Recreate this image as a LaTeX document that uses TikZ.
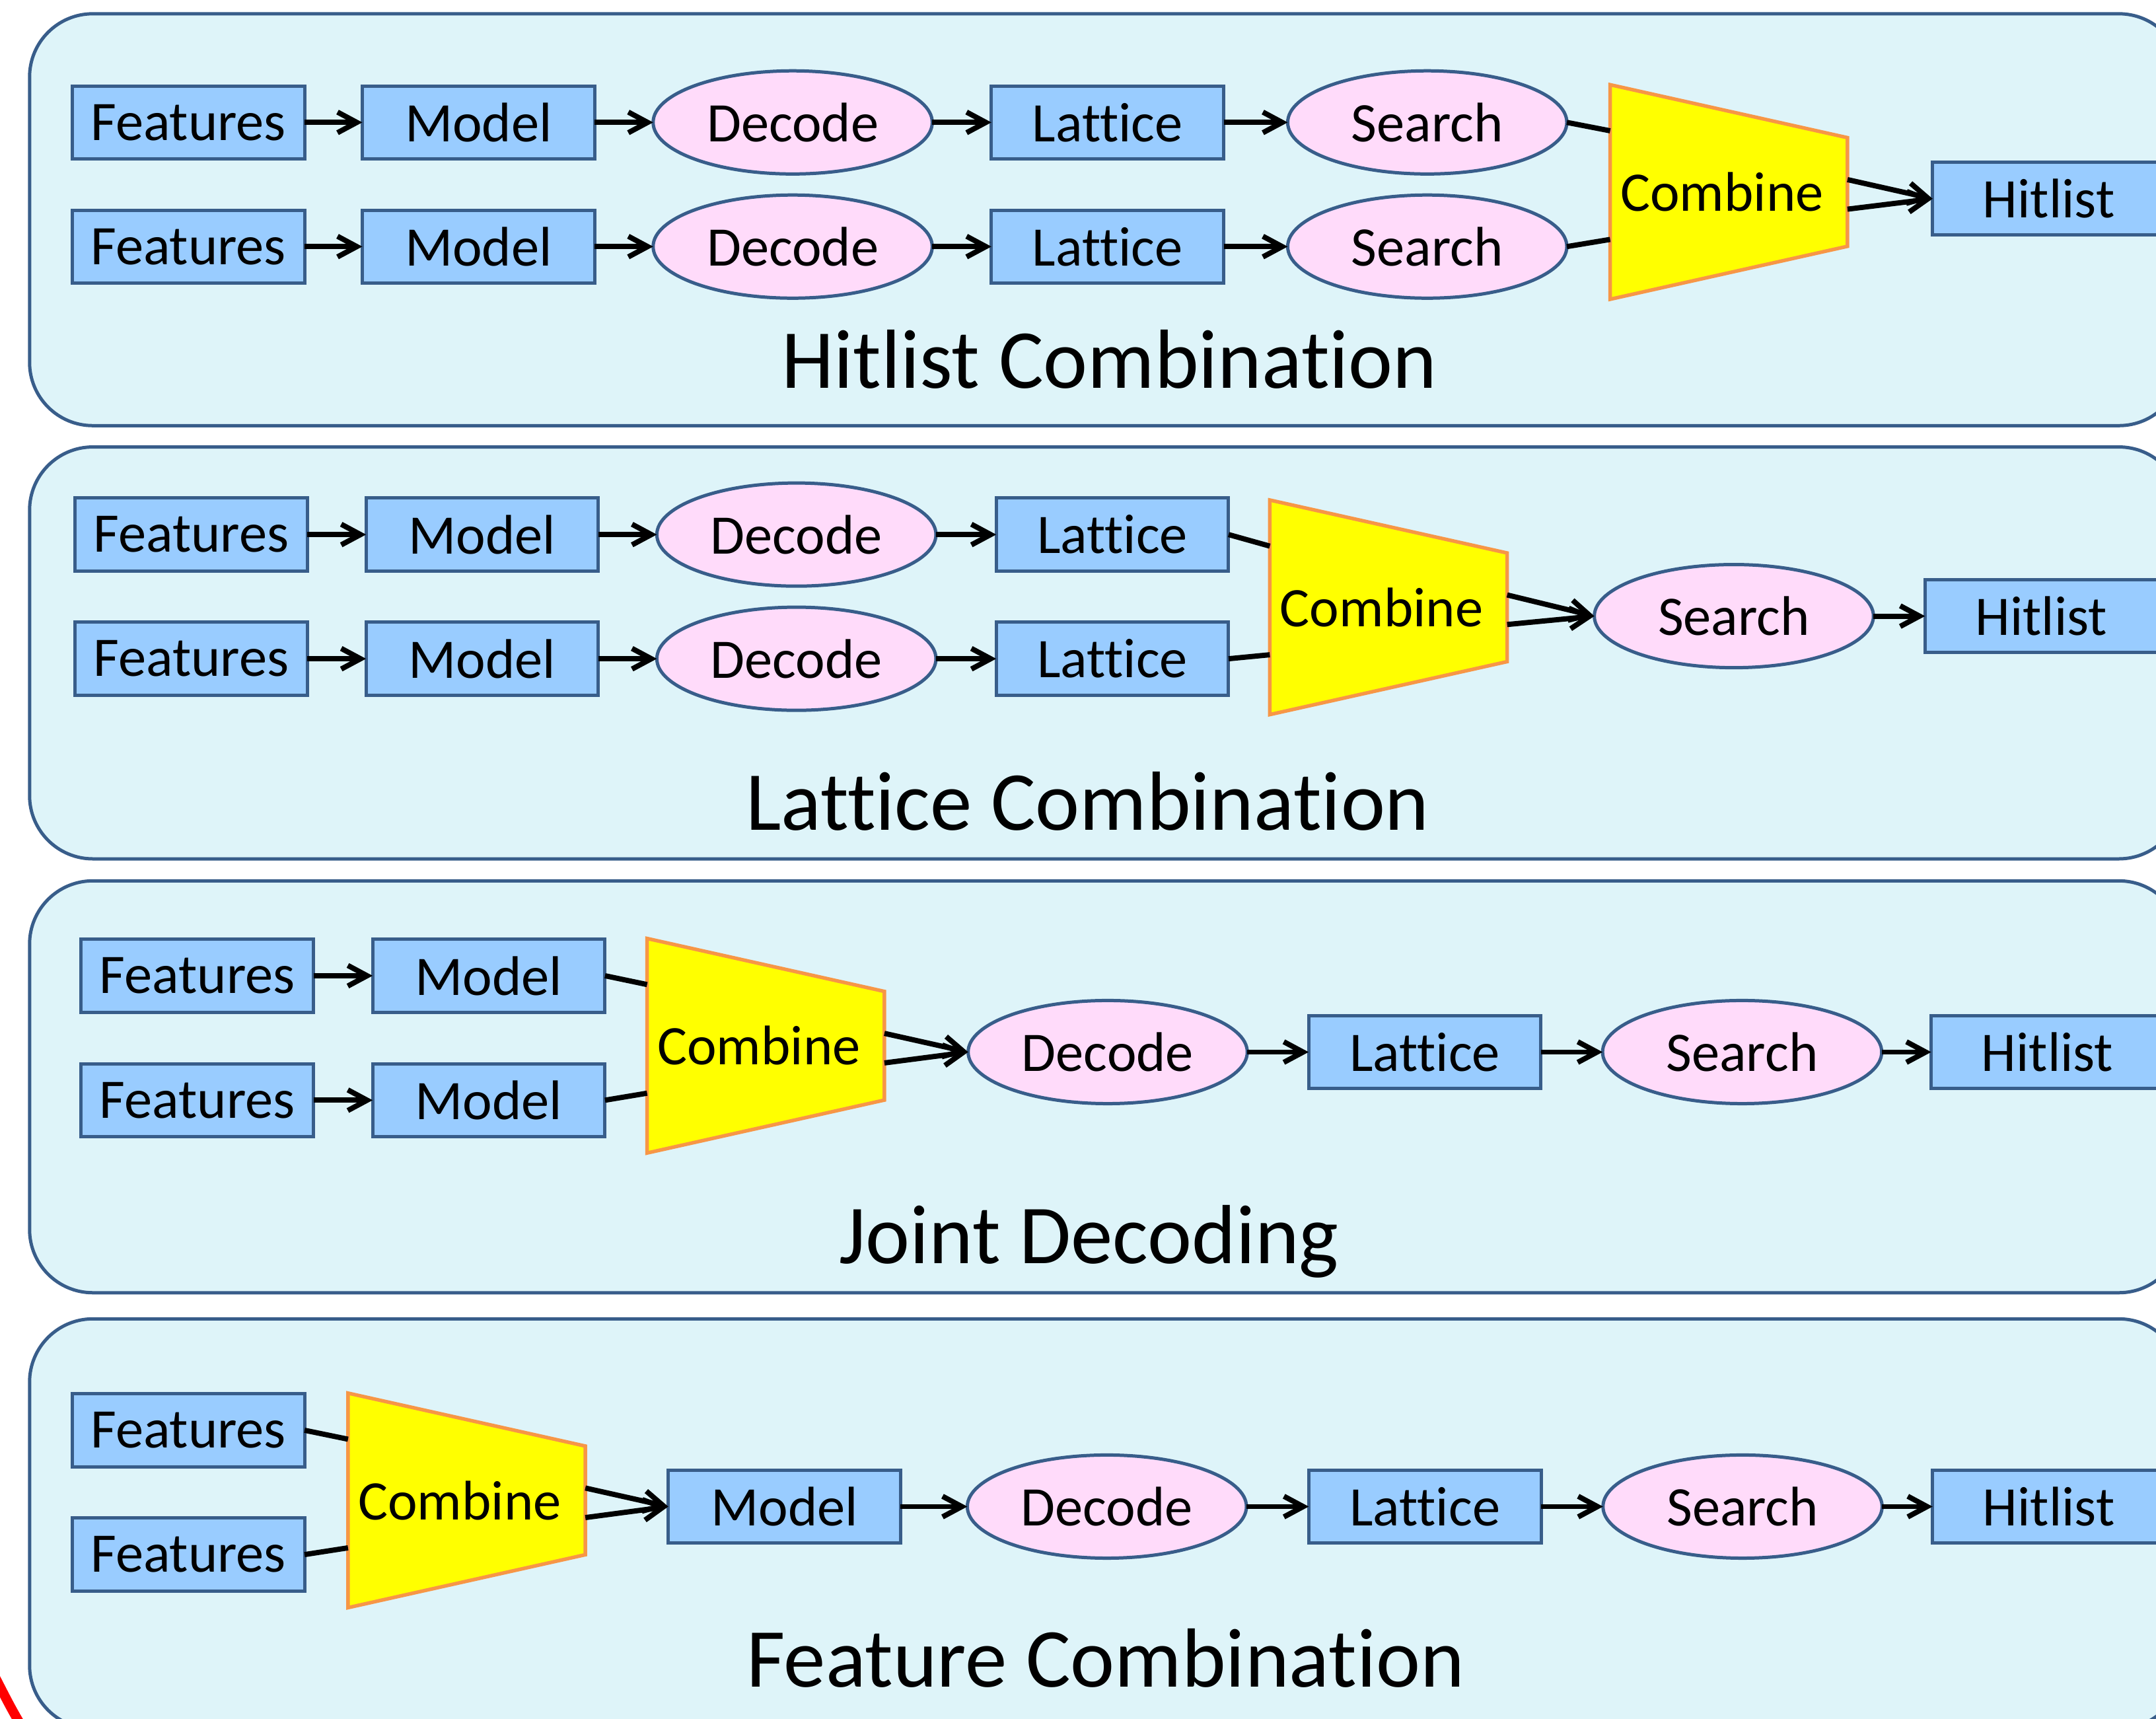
\documentclass[tikz,border=0pt]{standalone}
\usepackage{fontspec}
\setmainfont{Carlito}[Ligatures=NoCommon]
\usetikzlibrary{arrows.meta,shapes.geometric,calc}

\definecolor{panelfill}{RGB}{222,244,249}
\definecolor{paneledge}{RGB}{56,93,138}
\definecolor{boxfill}{RGB}{153,204,255}
\definecolor{ovalfill}{RGB}{255,219,250}
\definecolor{mergeedge}{RGB}{247,150,70}
\definecolor{mergefill}{RGB}{255,255,0}

\begin{document}
\begin{tikzpicture}[x=0.5pt,y=0.5pt,yscale=-1,xscale=1,
  panel/.style={draw=paneledge,fill=panelfill,line width=1.2pt,rounded corners=23pt},
  block/.style={draw=paneledge,fill=boxfill,line width=1.2pt,minimum width=84.5pt,minimum height=26.5pt,inner sep=0pt,outer sep=0pt,font=\fontsize{20.3}{24}\selectfont},
  oval/.style={ellipse,draw=paneledge,fill=ovalfill,line width=1.2pt,minimum width=101.5pt,minimum height=37.5pt,inner sep=0pt,outer sep=0pt,font=\fontsize{20.3}{24}\selectfont},
  mergeshape/.style={draw=mergeedge,fill=mergefill,line width=1.3pt},
  merge/.style={minimum width=86.3pt,minimum height=78pt,inner sep=0pt,outer sep=0pt,font=\fontsize{20.3}{24}\selectfont},
  heading/.style={anchor=base,inner sep=0pt,font=\fontsize{30.5}{36}\selectfont},
  link/.style={line width=1.9pt,-{Straight Barb[length=7pt,width=7.5pt]}},
  feed/.style={line width=1.9pt}]
\useasboundingbox (0,0) rectangle (1568,1249.5);
\clip (0,0) rectangle (1568,1249.5);

% panels
\draw[panel] (21.5,10) rectangle (1587,309.5);
\draw[panel] (21.5,325) rectangle (1587,624.5);
\draw[panel] (21.5,640.5) rectangle (1587,940);
\draw[panel] (21.5,959) rectangle (1587,1257);

% trapezoids under the Combine nodes
\foreach \cx/\cy in {1257.3/139.6, 1009.8/441.6, 556.9/760.4, 339.4/1091}
  \draw[mergeshape] (\cx-86.3,\cy-78) -- (\cx+86.3,\cy-39.5) -- (\cx+86.3,\cy+39.5) -- (\cx-86.3,\cy+78) -- cycle;

% Hitlist Combination
\foreach \r/\y in {a/89, b/179.3} {
  \node[block] (f1\r) at (137,\y) {Features};
  \node[block] (m1\r) at (348,\y) {Model};
  \node[oval] (d1\r) at (576.5,\y) {Decode};
  \node[block] (l1\r) at (805.5,\y) {Lattice};
  \node[oval] (s1\r) at (1038,\y) {Search};
  \draw[link] (f1\r) -- (m1\r);
  \draw[link] (m1\r) -- (d1\r);
  \draw[link] (d1\r) -- (l1\r);
  \draw[link] (l1\r) -- (s1\r);
}
\node[merge] (c1) at (1257.3,139.6) {Combine\kern5pt};
\node[block] (h1) at (1490,144.5) {Hitlist};
\draw[feed] (s1a.east) -- ($(c1.west)+(0,-44.5)$);
\draw[feed] (s1b.east) -- ($(c1.west)+(0,34.5)$);
\draw[link] ($(c1.east)+(0,-9)$) -- (h1.west);
\draw[link] ($(c1.east)+(0,12.5)$) -- (h1.west);
\node[heading] (t1) at (807,282) {Hitlist Combination};

% Lattice Combination
\foreach \r/\y in {a/388.7, b/479} {
  \node[block] (f2\r) at (139,\y) {Features};
  \node[block] (m2\r) at (350.7,\y) {Model};
  \node[oval] (d2\r) at (579.2,\y) {Decode};
  \node[block] (l2\r) at (809,\y) {Lattice};
  \draw[link] (f2\r) -- (m2\r);
  \draw[link] (m2\r) -- (d2\r);
  \draw[link] (d2\r) -- (l2\r);
}
\node[merge] (c2) at (1009.8,441.6) {Combine\kern5pt};
\node[oval] (s2) at (1261,448) {Search};
\node[block] (h2) at (1484.5,448) {Hitlist};
\draw[feed] (l2a.east) -- ($(c2.west)+(0,-44.5)$);
\draw[feed] (l2b.east) -- ($(c2.west)+(0,34.5)$);
\draw[link] ($(c2.east)+(0,-9)$) -- (s2.west);
\draw[link] ($(c2.east)+(0,12.5)$) -- (s2.west);
\draw[link] (s2) -- (h2);
\node[heading] (t2) at (791,603.5) {Lattice Combination};

% Joint Decoding
\foreach \r/\y in {a/709.5, b/800} {
  \node[block] (f3\r) at (143.5,\y) {Features};
  \node[block] (m3\r) at (355.5,\y) {Model};
  \draw[link] (f3\r) -- (m3\r);
}
\node[merge] (c3) at (556.9,760.4) {Combine\kern5pt};
\node[oval] (d3) at (805.6,765) {Decode};
\node[block] (l3) at (1036.2,765) {Lattice};
\node[oval] (s3) at (1267,765) {Search};
\node[block] (h3) at (1489,765) {Hitlist};
\draw[feed] (m3a.east) -- ($(c3.west)+(0,-44.5)$);
\draw[feed] (m3b.east) -- ($(c3.west)+(0,34.5)$);
\draw[link] ($(c3.east)+(0,-9)$) -- (d3.west);
\draw[link] ($(c3.east)+(0,12.5)$) -- (d3.west);
\draw[link] (d3) -- (l3);
\draw[link] (l3) -- (s3);
\draw[link] (s3) -- (h3);
\node[heading] (t3) at (792,918.7) {Joint Decoding};

% Feature Combination
\node[block] (f4a) at (137,1040) {Features};
\node[block] (f4b) at (137,1130.4) {Features};
\node[merge] (c4) at (339.4,1091) {Combine\kern5pt};
\node[block] (m4) at (570.5,1095.5) {Model};
\node[oval] (d4) at (805,1095.5) {Decode};
\node[block] (l4) at (1036.3,1095.5) {Lattice};
\node[oval] (s4) at (1267.3,1095.5) {Search};
\node[block] (h4) at (1490,1095.5) {Hitlist};
\draw[feed] (f4a.east) -- ($(c4.west)+(0,-44.5)$);
\draw[feed] (f4b.east) -- ($(c4.west)+(0,34.5)$);
\draw[link] ($(c4.east)+(0,-9)$) -- (m4.west);
\draw[link] ($(c4.east)+(0,12.5)$) -- (m4.west);
\draw[link] (m4) -- (d4);
\draw[link] (d4) -- (l4);
\draw[link] (l4) -- (s4);
\draw[link] (s4) -- (h4);
\node[heading] (t4) at (804,1226.5) {Feature Combination};

% red stroke in the corner
\draw[red,line width=3.5pt] (-7,1213) .. controls (0,1226) and (6,1239) .. (15,1254);
\end{tikzpicture}
\end{document}
